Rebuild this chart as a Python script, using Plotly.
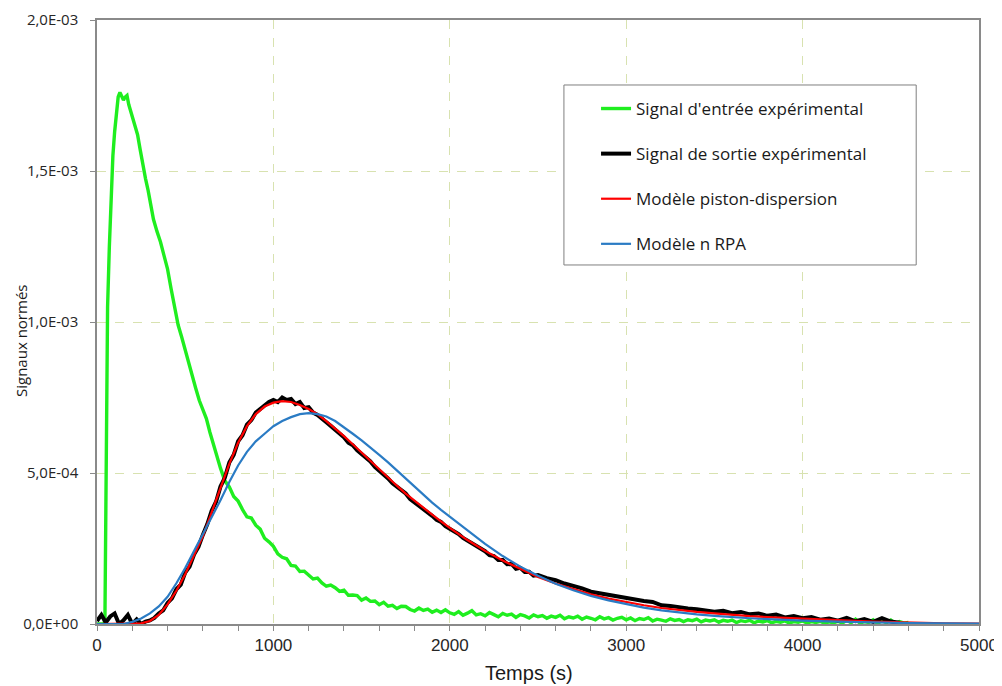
import plotly.graph_objects as go

# ---- data (signal values in units of 1e-3) ----
t_in = [0, 20, 40, 45, 50, 55, 60, 70, 80, 90, 100, 110, 120, 130, 140, 150, 160, 170, 180, 190,
        200, 215, 230, 245, 260, 275, 290, 305, 320, 340, 360, 380, 400, 420, 440, 460, 480, 500,
        520, 540, 560, 580, 600, 620, 640, 660, 680,
        700, 725, 750, 775, 800, 825, 850, 875, 900, 925, 950, 975, 1000, 1025, 1050, 1075, 1100,
        1125, 1150, 1175, 1200, 1225, 1250, 1275, 1300, 1325, 1350, 1375, 1400, 1425, 1450, 1475,
        1500, 1525, 1550, 1575, 1600, 1625, 1650, 1675, 1700, 1725, 1750, 1775, 1800, 1825, 1850,
        1875, 1900, 1925, 1950, 1975, 2000,
        2025, 2050, 2075, 2100, 2125, 2150, 2175, 2200, 2225, 2250, 2275, 2300, 2325, 2350, 2375,
        2400, 2425, 2450, 2475, 2500, 2525, 2550, 2575, 2600, 2625, 2650, 2675, 2700, 2725, 2750,
        2775, 2800, 2825, 2850, 2875, 2900, 2925, 2950, 2975, 3000, 3025, 3050, 3075, 3100, 3125,
        3150, 3175, 3200, 3225, 3250, 3275, 3300, 3325, 3350, 3375, 3400, 3425, 3450, 3475, 3500,
        3525, 3550, 3575, 3600, 3625, 3650, 3675, 3700, 3725, 3750, 3775, 3800, 3825, 3850, 3875,
        3900, 3925, 3950, 3975, 4000, 4025, 4050, 4075, 4100, 4125, 4150, 4175, 4200, 4225, 4250,
        4275, 4300, 4325, 4350, 4375, 4400, 4425, 4450, 4475, 4500, 4525, 4550, 4575, 4600]
v_in = [0.0, 0.0, 0.0, 0.02, 0.45, 0.85, 1.05, 1.25, 1.42, 1.55, 1.63, 1.69, 1.745, 1.76, 1.745,
        1.735, 1.745, 1.75, 1.72, 1.70, 1.68, 1.65, 1.62, 1.57, 1.515, 1.475, 1.435, 1.385, 1.34,
        1.30, 1.265, 1.22, 1.175, 1.11, 1.05, 0.99, 0.95, 0.905, 0.865, 0.825, 0.78, 0.74, 0.71,
        0.68, 0.635, 0.595, 0.55,
        0.516, 0.474, 0.454, 0.422, 0.407, 0.379, 0.355, 0.351, 0.327, 0.314, 0.284, 0.272, 0.257,
        0.232, 0.221, 0.216, 0.194, 0.192, 0.174, 0.175, 0.163, 0.149, 0.152, 0.136, 0.125, 0.129,
        0.12, 0.108, 0.112, 0.095, 0.096, 0.094, 0.079, 0.086, 0.075, 0.076, 0.064, 0.072, 0.059,
        0.062, 0.051, 0.059, 0.058, 0.048, 0.043, 0.053, 0.045, 0.049, 0.039, 0.046, 0.038, 0.047,
        0.037,
        0.032, 0.041, 0.029, 0.036, 0.044, 0.03, 0.034, 0.027, 0.038, 0.031, 0.024, 0.035, 0.029,
        0.033, 0.022, 0.031, 0.027, 0.02, 0.03, 0.024, 0.028, 0.019, 0.026, 0.022, 0.029, 0.017,
        0.024, 0.02, 0.026, 0.016, 0.023, 0.019, 0.014, 0.024, 0.017, 0.021, 0.013, 0.019, 0.022,
        0.014, 0.02, 0.011, 0.018, 0.015, 0.021, 0.01, 0.016, 0.013, 0.009, 0.017, 0.012, 0.015,
        0.008, 0.014, 0.011, 0.016, 0.007, 0.013, 0.01, 0.014, 0.006, 0.012, 0.009, 0.013, 0.005,
        0.011, 0.008, 0.012, 0.004, 0.01, 0.007, 0.011, 0.004, 0.009, 0.006, 0.01, 0.003, 0.008,
        0.006, 0.01, 0.003, 0.008, 0.005, 0.009, 0.002, 0.007, 0.004, 0.009, 0.003, 0.012, 0.004,
        0.016, 0.003, 0.008, 0.005, 0.014, 0.002, 0.011, 0.004, 0.013, 0.002, 0.008, 0.003, 0.005]

t_out = [0, 25, 50, 75, 100, 125, 150, 175, 200, 225, 250, 275, 300, 325, 350, 375, 400, 425, 450,
         475, 500, 525, 550, 575, 600, 625, 650, 675, 700, 725, 750, 775, 800, 825, 850, 875, 900,
         925, 950, 975, 1000, 1025, 1050, 1075, 1100, 1125, 1150, 1175, 1200, 1225, 1250, 1275,
         1300, 1325, 1350, 1375, 1400, 1425, 1450, 1475, 1500, 1525, 1550, 1575, 1600, 1625, 1650,
         1675, 1700, 1725, 1750, 1775, 1800, 1825, 1850, 1875, 1900, 1925, 1950, 1975, 2000, 2025,
         2050, 2075, 2100, 2125, 2150, 2175, 2200, 2225, 2250, 2275, 2300, 2325, 2350, 2375, 2400,
         2425, 2450, 2475, 2500, 2550, 2600, 2650, 2700, 2750, 2800, 2850, 2900, 2950, 3000, 3050,
         3100, 3150, 3200, 3250, 3300, 3350, 3400, 3450, 3500, 3550, 3600, 3650, 3700, 3750, 3800,
         3850, 3900, 3950, 4000, 4050, 4100, 4150, 4200, 4250, 4300, 4350, 4400, 4450, 4500, 4550]
v_out = [0.01, 0.03, 0.005, 0.025, 0.035, 0.0, 0.012, 0.03, 0.0, 0.015, 0.0, 0.008, 0.012, 0.02,
         0.035, 0.045, 0.07, 0.085, 0.115, 0.13, 0.17, 0.19, 0.23, 0.255, 0.295, 0.33, 0.375, 0.405,
         0.455, 0.485, 0.535, 0.56, 0.605, 0.625, 0.66, 0.675, 0.70, 0.712, 0.725, 0.735, 0.742,
         0.735, 0.75, 0.742, 0.745, 0.728, 0.735, 0.715, 0.718, 0.70, 0.692, 0.678, 0.668, 0.656,
         0.643, 0.628, 0.618, 0.6, 0.592, 0.575, 0.563, 0.548, 0.538, 0.52, 0.508, 0.494, 0.482,
         0.466, 0.455, 0.44, 0.432, 0.414, 0.403, 0.392, 0.383, 0.368, 0.358, 0.345, 0.338, 0.324,
         0.315, 0.305, 0.298, 0.285, 0.276, 0.266, 0.258, 0.247, 0.241, 0.228, 0.225, 0.212, 0.212,
         0.198, 0.199, 0.183, 0.186, 0.172, 0.173, 0.16, 0.162, 0.152, 0.145, 0.134, 0.127, 0.118,
         0.107, 0.102, 0.094, 0.09, 0.084, 0.081, 0.076, 0.073, 0.062, 0.06, 0.055, 0.051, 0.049,
         0.046, 0.041, 0.044, 0.036, 0.04, 0.032, 0.035, 0.027, 0.031, 0.022, 0.026, 0.019, 0.023,
         0.014, 0.018, 0.011, 0.02, 0.009, 0.016, 0.007, 0.019, 0.008, 0.004]

t_pd = [0, 240, 250, 300, 350, 400, 450, 500, 550, 600, 650, 700, 750, 800, 850, 900, 950, 1000,
        1050, 1100, 1150, 1200, 1250, 1300, 1350, 1400, 1450, 1500, 1550, 1600, 1650, 1700, 1750,
        1800, 1850, 1900, 1950, 2000, 2100, 2200, 2300, 2400, 2500, 2600, 2700, 2800, 2900, 3000,
        3100, 3200, 3300, 3400, 3500, 3600, 3700, 3800, 3900, 4000, 4200, 4400, 4600, 4800, 5000]
v_pd = [0.0, 0.0, 0.002, 0.01, 0.03, 0.065, 0.11, 0.165, 0.225, 0.29, 0.37, 0.45, 0.53, 0.6,
        0.655, 0.695, 0.72, 0.733, 0.738, 0.735, 0.725, 0.712, 0.695, 0.672, 0.648, 0.622, 0.595,
        0.567, 0.54, 0.512, 0.485, 0.458, 0.432, 0.408, 0.385, 0.362, 0.34, 0.318, 0.278, 0.242,
        0.21, 0.182, 0.156, 0.134, 0.115, 0.098, 0.084, 0.072, 0.062, 0.053, 0.046, 0.04, 0.035,
        0.03, 0.026, 0.023, 0.021, 0.019, 0.013, 0.008, 0.004, 0.002, 0.001]

t_rpa = [0, 150, 200, 250, 300, 350, 400, 450, 500, 550, 600, 650, 700, 750, 800, 850, 900, 950,
         1000, 1050, 1100, 1150, 1200, 1250, 1300, 1350, 1400, 1450, 1500, 1550, 1600, 1650, 1700,
         1750, 1800, 1850, 1900, 1950, 2000, 2100, 2200, 2300, 2400, 2500, 2600, 2700, 2800, 2900,
         3000, 3100, 3200, 3300, 3400, 3500, 3600, 3700, 3800, 3900, 4000, 4200, 4400, 4600, 4800,
         5000]
v_rpa = [0.0, 0.0, 0.007, 0.018, 0.035, 0.058, 0.09, 0.135, 0.185, 0.24, 0.295, 0.35, 0.41, 0.47,
         0.525, 0.57, 0.605, 0.63, 0.655, 0.672, 0.685, 0.695, 0.698, 0.695, 0.687, 0.672, 0.652,
         0.63, 0.608, 0.585, 0.56, 0.535, 0.508, 0.482, 0.455, 0.428, 0.402, 0.378, 0.355, 0.308,
         0.265, 0.225, 0.19, 0.16, 0.133, 0.112, 0.093, 0.078, 0.065, 0.054, 0.045, 0.038, 0.032,
         0.027, 0.022, 0.019, 0.016, 0.013, 0.011, 0.008, 0.005, 0.003, 0.002, 0.001]

assert len(t_in) == len(v_in), (len(t_in), len(v_in))
assert len(t_out) == len(v_out), (len(t_out), len(v_out))
assert len(t_pd) == len(v_pd)
assert len(t_rpa) == len(v_rpa)

names = ["Signal d'entrée expérimental", "Signal de sortie expérimental",
         "Modèle piston-dispersion", "Modèle n RPA"]
colors = ["#1fee1f", "#000000", "#ff0000", "#2a7bc4"]
widths = [3.4, 4, 2.2, 2.2]

y_tickvals = [0, 0.0005, 0.001, 0.0015, 0.002]
y_ticktext = ["0,0E+00", "5,0E-04", "1,0E-03", "1,5E-03", "2,0E-03"]
x_tickvals = [0, 1000, 2000, 3000, 4000, 5000]

FONT = "Open Sans"
XFONT = "Liberation Sans"
fig = go.Figure()
series = [(t_in, v_in), (t_out, v_out), (t_pd, v_pd), (t_rpa, v_rpa)]
for i, (tt, vv) in enumerate(series):
    fig.add_trace(go.Scatter(
        x=tt, y=[v * 1e-3 for v in vv], mode="lines", name=names[i],
        line=dict(color=colors[i], width=widths[i]), legendgroup=f"g{i}"))

grid = "#d8e2b0"
axcol = "#8a8a8a"
fig.update_layout(
    width=994, height=678,
    margin=dict(l=89, r=23, t=12, b=62, autoexpand=False),
    paper_bgcolor="white", plot_bgcolor="white",
    font=dict(family=FONT, color="#404040"),
    showlegend=True,
    legend=dict(x=0.5658, y=0.8825, xanchor="left", yanchor="top",
                bgcolor="rgba(0,0,0,0)", borderwidth=0,
                font=dict(family=FONT, size=17, color="#1a1a1a"),
                tracegroupgap=20, itemwidth=30),
    shapes=[dict(type="rect", xref="paper", yref="paper", x0=0.5294, x1=0.9288,
                 y0=0.5944, y1=0.8924, line=dict(color="#7f7f7f", width=1),
                 fillcolor="white", layer="above")],
    annotations=[
        dict(text="Signaux normés", xref="paper", yref="paper", x=-0.0862, y=0.4685,
             textangle=-90, showarrow=False, xanchor="center", yanchor="middle",
             font=dict(family=FONT, size=15, color="#1a1a1a")),
        dict(text="Temps (s)", xref="paper", yref="paper", x=0.4898, y=-0.0811,
             showarrow=False, xanchor="center", yanchor="middle",
             font=dict(family=XFONT, size=20, color="#1a1a1a")),
    ],
    xaxis=dict(range=[0, 5000], tickvals=x_tickvals, showline=True, linecolor=axcol,
               linewidth=1.5, mirror=True, ticks="outside", ticklen=5, tickcolor=axcol,
               showgrid=True, gridcolor=grid, griddash="dash", gridwidth=1, automargin=False,
               tickfont=dict(family=XFONT, size=17, color="#262626"), zeroline=False,
               minor=dict(dtick=200, ticks="outside", ticklen=5, tickcolor=axcol, showgrid=False)),
    yaxis=dict(range=[0, 0.002], tickvals=y_tickvals, ticktext=y_ticktext, showline=True,
               linecolor=axcol, linewidth=1.5, mirror=True, ticks="outside", ticklen=5,
               tickcolor=axcol, showgrid=True, gridcolor=grid, griddash="dash", gridwidth=1,
               automargin=False,
               tickfont=dict(family=FONT, size=15, color="#262626"), zeroline=False,
               ticklabelstandoff=9),
)
fig.write_html("out.html")
